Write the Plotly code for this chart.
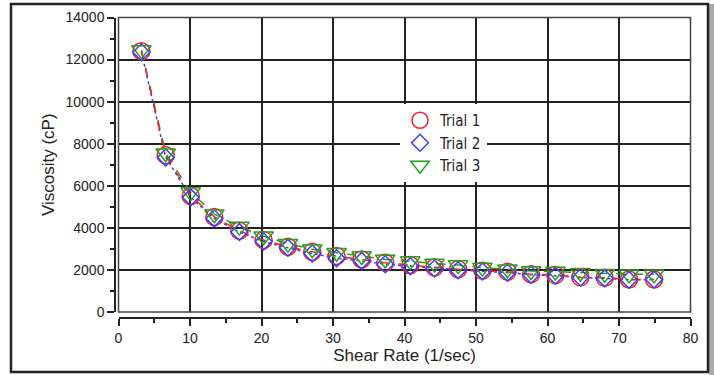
import plotly.graph_objects as go

shear_rate = [3.2, 6.6, 10.1, 13.4, 16.9, 20.3, 23.7, 27.1, 30.5, 34.0, 37.3,
              40.8, 44.2, 47.5, 50.9, 54.4, 57.7, 61.1, 64.6, 68.0, 71.4, 74.9]
trial1 = [12400, 7450, 5520, 4520, 3860, 3420, 3100, 2860, 2660, 2500, 2340,
          2230, 2120, 2030, 1960, 1910, 1800, 1760, 1650, 1630, 1550, 1550]
trial2 = [12350, 7350, 5450, 4450, 3800, 3350, 3050, 2780, 2560, 2430, 2270,
          2180, 2070, 1990, 1930, 1870, 1770, 1720, 1640, 1600, 1530, 1540]
trial3 = [12450, 7550, 5700, 4650, 4060, 3600, 3250, 2980, 2820, 2660, 2500,
          2420, 2300, 2230, 2110, 2030, 1950, 1920, 1870, 1820, 1790, 1790]

series = [
    ("Trial 1", trial1, "#FF2020", "circle-open", 17, "dash"),
    ("Trial 2", trial2, "#3C3CFF", "diamond-open", 13, "dot"),
    ("Trial 3", trial3, "#22A022", "triangle-down-open", 17, "dash"),
]

fig = go.Figure()
for name, vals, col, sym, sz, dash in reversed(series):
    fig.add_trace(go.Scatter(x=shear_rate, y=vals, mode="lines", showlegend=False,
                             line=dict(color=col, width=1.5, dash=dash), hoverinfo="skip"))
for name, vals, col, sym, sz, dash in series:
    fig.add_trace(go.Scatter(x=shear_rate, y=vals, mode="markers", name=name,
                             marker=dict(symbol=sym, size=sz, color=col, line=dict(width=1.5, color=col))))

W, H = 714, 375

def fx(p):
    return p / W

def fy(p):
    return 1 - p / H

axis_common = dict(
    showline=True, linecolor="#222", linewidth=1.5,
    ticks="outside", ticklen=7, tickwidth=1.5, tickcolor="#222",
    showgrid=True, gridcolor="#222", gridwidth=1.5, zeroline=False,
    tickfont=dict(family="Liberation Sans, Arial, sans-serif", size=14, color="#222"),
    tickformat="d", automargin=False,
)

fig.update_layout(
    width=W, height=H,
    margin=dict(l=0, r=0, t=0, b=0),
    paper_bgcolor="white", plot_bgcolor="white",
    font=dict(family="Liberation Sans, Arial, sans-serif", color="#222"),
    xaxis=dict(range=[0, 80], dtick=10, domain=[fx(118.5), fx(690.5)],
               anchor="free", position=fy(318),
               minor=dict(dtick=5, ticks="outside", ticklen=4, tickcolor="#222", tickwidth=1.5, showgrid=False),
               title=dict(text="Shear Rate (1/sec)", font=dict(size=17, color="#222"), standoff=3),
               **axis_common),
    yaxis=dict(range=[0, 14000], dtick=2000, domain=[fy(312), fy(17.5)],
               anchor="free", position=fx(115),
               minor=dict(dtick=1000, ticks="outside", ticklen=4, tickcolor="#222", tickwidth=1.5, showgrid=False),
               title=dict(text="Viscosity (cP)", font=dict(size=17, color="#222"), standoff=6),
               **axis_common),
    legend=dict(x=fx(400), y=fy(104), xanchor="left", yanchor="top",
                bgcolor="white", borderwidth=0, tracegroupgap=0,
                font=dict(family="Liberation Sans Narrow, Arial Narrow, DejaVu Sans Condensed, sans-serif", size=15, color="#222")),
    showlegend=True,
    shapes=[
        dict(type="rect", xref="x domain", yref="y domain", x0=0, x1=1, y0=0, y1=1,
             line=dict(color="#444", width=1.5), layer="above"),
        dict(type="rect", xref="paper", yref="paper", x0=fx(709), x1=fx(714), y0=fy(375), y1=fy(4),
             fillcolor="#AAAAAA", line=dict(width=0)),
        dict(type="rect", xref="paper", yref="paper", x0=fx(11), x1=fx(708), y0=fy(372), y1=fy(4),
             line=dict(color="#222", width=2.5)),
    ],
)

fig.write_html("out.html", config={"displayModeBar": False},
               post_script="document.body.style.margin='0';")
